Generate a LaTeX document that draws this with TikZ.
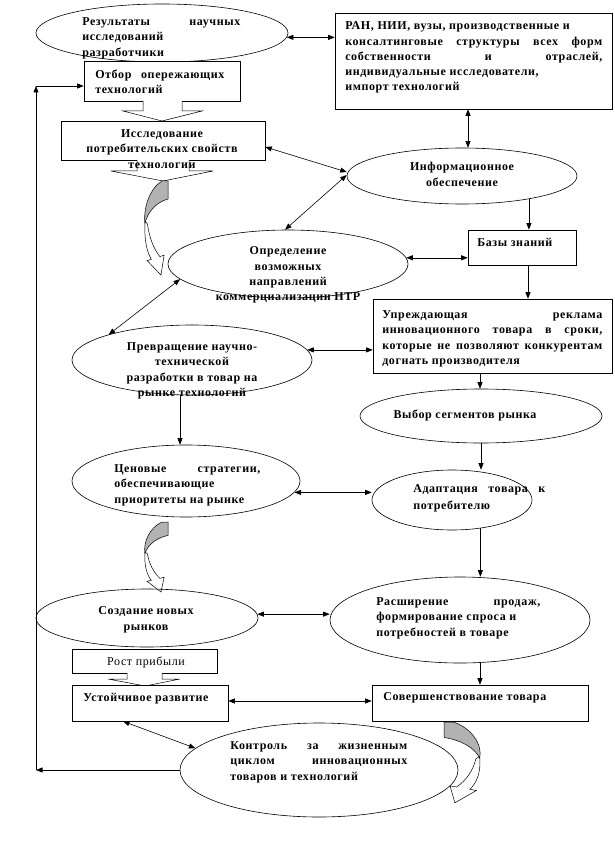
\documentclass[tikz,border=0pt]{standalone}
\usepackage{fontspec}
\setmainfont{Liberation Serif}
\usetikzlibrary{shapes.geometric,arrows.meta,calc}
\newcommand\jline[2]{\makebox[#1pt][s]{#2}}
\newcommand\curvarrow{%
  \draw[fill=white,line width=0.5pt] (-23,40) .. controls (-24,59) and (-21,71) .. (-16.7,78.3) -- (-20.9,79.6) -- (-7,94) -- (-3.9,74.2) -- (-8.1,75.6) .. controls (-15,67) and (-19,55) .. (-20.5,43) -- cycle;
  \draw[fill=black!30,line width=0.5pt] (-6,0) -- (0,0) -- (0,18) .. controls (-11,21) and (-20,30) .. (-23,42) .. controls (-25,27) and (-18,7) .. (-6,0) -- cycle;}
\begin{document}
\begin{tikzpicture}[x=1pt,y=-1pt,line width=0.6pt,
  box/.style={draw,rectangle,inner sep=0pt,fill=white},
  oval/.style={draw,ellipse,inner sep=0pt},
  txt/.style={inner sep=0pt,align=left,anchor=north west,font=\fontsize{12}{15.3}\selectfont\bfseries\addfontfeature{LetterSpace=5}},
  ctxt/.style={txt,align=center,anchor=north},
  ntxt/.style={inner sep=0pt,anchor=north,font=\fontsize{12}{15.3}\selectfont\addfontfeature{LetterSpace=5}},
  tip/.style={-{Triangle[length=6.5pt,width=5pt]}},
  dtip/.style={{Triangle[length=6.5pt,width=5pt]}-{Triangle[length=6.5pt,width=5pt]}},
  blk/.style={draw,fill=white,line width=0.5pt}]
\useasboundingbox (0,0) rectangle (614,842);
% shapes
\node[oval,minimum width=252pt,minimum height=58pt] (rez) at (162,33) {};
\node[box,minimum width=277pt,minimum height=96pt] (ran) at (473.5,61) {};
\node[box,minimum width=156pt,minimum height=40pt] (otbor) at (162,81) {};
\draw[blk] (143,101) -- (143,111) -- (123,111) -- (162,121) -- (202,111) -- (182,111) -- (182,101);
\node[box,minimum width=204pt,minimum height=39pt] (issl) at (163,140.5) {};
\draw[blk] (137,160) -- (137,171) -- (111,171) -- (163,181) -- (213,171) -- (189,171) -- (189,160);
\node[oval,minimum width=230pt,minimum height=56pt] (info) at (462,176) {};
\node[box,minimum width=108pt,minimum height=35pt] (bazy) at (522,247.5) {};
\node[oval,minimum width=240pt,minimum height=68pt] (opred) at (288,264) {};
\begin{scope}[shift={(168,181)}]\curvarrow\end{scope}
\node[box,minimum width=239pt,minimum height=74pt] (upr) at (492.5,336) {};
\node[oval,minimum width=240pt,minimum height=70pt] (prev) at (192,360) {};
\node[oval,minimum width=242pt,minimum height=54pt] (vybor) at (481,416) {};
\node[oval,minimum width=160pt,minimum height=60pt] (adapt) at (452,500) {};
\node[oval,minimum width=228pt,minimum height=72pt] (cen) at (186,481) {};
\begin{scope}[shift={(168,522)},yscale=0.745]\curvarrow\end{scope}
\node[oval,minimum width=222pt,minimum height=58pt] (sozd) at (147,618) {};
\node[oval,minimum width=260pt,minimum height=86pt] (rassh) at (460,620) {};
\node[box,minimum width=145pt,minimum height=24pt] (rost) at (144.5,661) {};
\draw[blk] (127,673) -- (127,679) -- (108,679) -- (145,686) -- (180,679) -- (162,679) -- (162,673);
\node[box,minimum width=156pt,minimum height=36pt] (ustoy) at (150,703) {};
\node[box,minimum width=216pt,minimum height=36pt] (sover) at (480,703) {};
\node[oval,minimum width=278pt,minimum height=94pt] (kontr) at (319,770) {};
\begin{scope}[shift={(444,722)},xscale=-1.55,yscale=0.86]\curvarrow\end{scope}
% connectors
\coordinate (lb) at (36,770);
\coordinate (lt) at (36,86);
\draw[dtip] (rez.-2) -- (rez.-2 -| ran.west);
\draw[tip] (kontr.west) -- (lb);
\draw[tip] (lb) -- (lt);
\draw[tip] (lt) -- (lt -| otbor.west);
\draw[dtip] ([xshift=-5.5pt]ran.south) -- ([xshift=-5.5pt]ran.south |- info.north);
\draw[dtip] ([yshift=-6.5pt]issl.east) -- ([yshift=4pt]info.west);
\draw[dtip] (opred.95) -- ([yshift=1pt]info.west);
\draw[tip] (info.-19) -- (info.-19 |- bazy.north);
\draw[dtip] (opred.3) -- (opred.3 -| bazy.west);
\draw[tip] ([xshift=6pt]bazy.south) -- ([xshift=6pt]bazy.south |- upr.north);
\draw[dtip] (prev.5.5) -- (prev.5.5 -| upr.west);
\draw[dtip] (opred.188) -- (prev.163);
\draw[tip] ([xshift=-12pt]prev.south) -- ([xshift=-12pt]prev.south |- cen.north);
\draw[tip] ([xshift=-12.5pt]upr.south) -- ([xshift=-12.5pt]upr.south |- vybor.north);
\draw[tip] (vybor.south) -- (vybor.south |- adapt.north);
\draw[dtip] (cen.-6.4) -- (cen.-6.4 -| adapt.west);
\draw[tip] (adapt.-45) -- (adapt.-45 |- rassh.north);
\draw[dtip] (sozd.2.6) -- (sozd.2.6 -| rassh.west);
\draw[tip] (rassh.-65) -- (rassh.-65 |- sover.north);
\draw[dtip] ([yshift=2pt]ustoy.east) -- ([yshift=2pt]ustoy.east -| sover.west);
\draw[dtip] ([xshift=-27pt]ustoy.south) -- (kontr.170);
% texts
\node[txt] (rezT) at (82,17.5) {\jline{158}{Результаты научных}\\исследований\\разработчики};
\node[txt] (ranT) at (345,21.5) {РАН, НИИ, вузы, производственные и\\\jline{257}{консалтинговые структуры всех форм}\\\jline{257}{собственности и отраслей,}\\индивидуальные исследователи,\\импорт технологий};
\node[txt] (otborT) at (95,69.5) {\jline{129}{Отбор опережающих}\\технологий};
\node[ctxt] (isslT) at (162,129.5) {Исследование\\потребительских свойств\\технологии};
\node[ctxt] (infoT) at (462,161.5) {Информационное\\[1pt]обеспечение};
\node[txt] (bazyT) at (477,237.5) {Базы знаний};
\node[ctxt] (opredT) at (288,246.5) {Определение\\возможных\\направлений\\коммерциализации НТР};
\node[txt] (uprT) at (382,310.5) {\jline{220}{Упреждающая реклама}\\\jline{220}{инновационного товара в сроки,}\\\jline{220}{которые не позволяют конкурентам}\\догнать производителя};
\node[ctxt] (prevT) at (192,342.5) {Превращение научно-\\технической\\разработки в товар на\\рынке технологий};
\node[ctxt] (vyborT) at (465,409.5) {Выбор сегментов рынка};
\node[txt] (adaptT) at (413,484.5) {\jline{132}{Адаптация товара к}\\[1pt]потребителю};
\node[txt] (cenT) at (114,464.5) {\jline{146}{Ценовые стратегии,}\\обеспечивающие\\приоритеты на рынке};
\node[ctxt] (sozdT) at (146,606.5) {Создание новых\\рынков};
\node[txt] (rasshT) at (376,597.5) {\jline{164}{Расширение продаж,}\\формирование спроса и\\потребностей в товаре};
\node[ntxt] (rostT) at (146,656.5) {Рост прибыли};
\node[txt] (ustoyT) at (83,692.5) {Устойчивое развитие};
\node[txt] (soverT) at (383,692.5) {Совершенствование товара};
\node[txt] (kontrT) at (230,741.5) {\jline{177}{Контроль за жизненным}\\\jline{177}{циклом инновационных}\\товаров и технологий};
\end{tikzpicture}
\end{document}
